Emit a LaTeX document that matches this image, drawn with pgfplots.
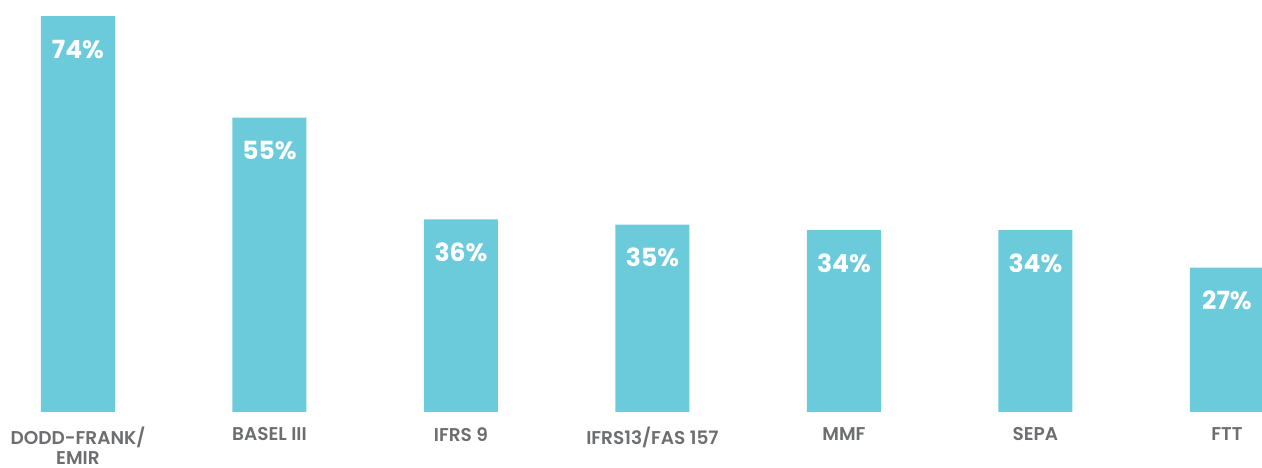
\documentclass[border=0pt]{standalone}
\usepackage{fontspec}
\setmainfont{Poppins}
\usepackage{pgfplots}
\pgfplotsset{compat=1.18}
\definecolor{barc}{HTML}{6CCBDB}
\definecolor{labc}{HTML}{6D6E71}
\begin{document}
\begin{tikzpicture}
\begin{axis}[
  scale only axis,
  width=1262pt, height=412pt,
  xmin=-0.407, xmax=6.183,
  ymin=0, ymax=77,
  ybar, bar width=74pt,
  axis line style={draw=none},
  tick style={draw=none},
  ytick=\empty,
  xtick=data,
  /pgf/number format/assume math mode=true,
  xticklabels={{DODD-FRANK/\\EMIR},{BASEL III},{IFRS 9},{IFRS13/FAS 157},{MMF},{SEPA},{FTT}},
  xticklabel style={align=center, text=labc, anchor=north, inner sep=0pt, yshift=-11pt,
    font=\fontsize{18.5}{19.5}\selectfont\fontspec{Poppins SemiBold}},
  nodes near coords={\pgfmathprintnumber{\pgfplotspointmeta}\%},
  every node near coord/.append style={anchor=center, yshift=-33pt, text=white,
    font=\fontsize{25}{28}\selectfont\bfseries},
]
\addplot[fill=barc, draw=none] coordinates {(0,74) (1,55) (2,36) (3,35) (4,34) (5,34) (6,27)};
\end{axis}
\pgfresetboundingbox
\useasboundingbox (0,-56pt) rectangle (1262pt,412pt);
\end{tikzpicture}
\end{document}
